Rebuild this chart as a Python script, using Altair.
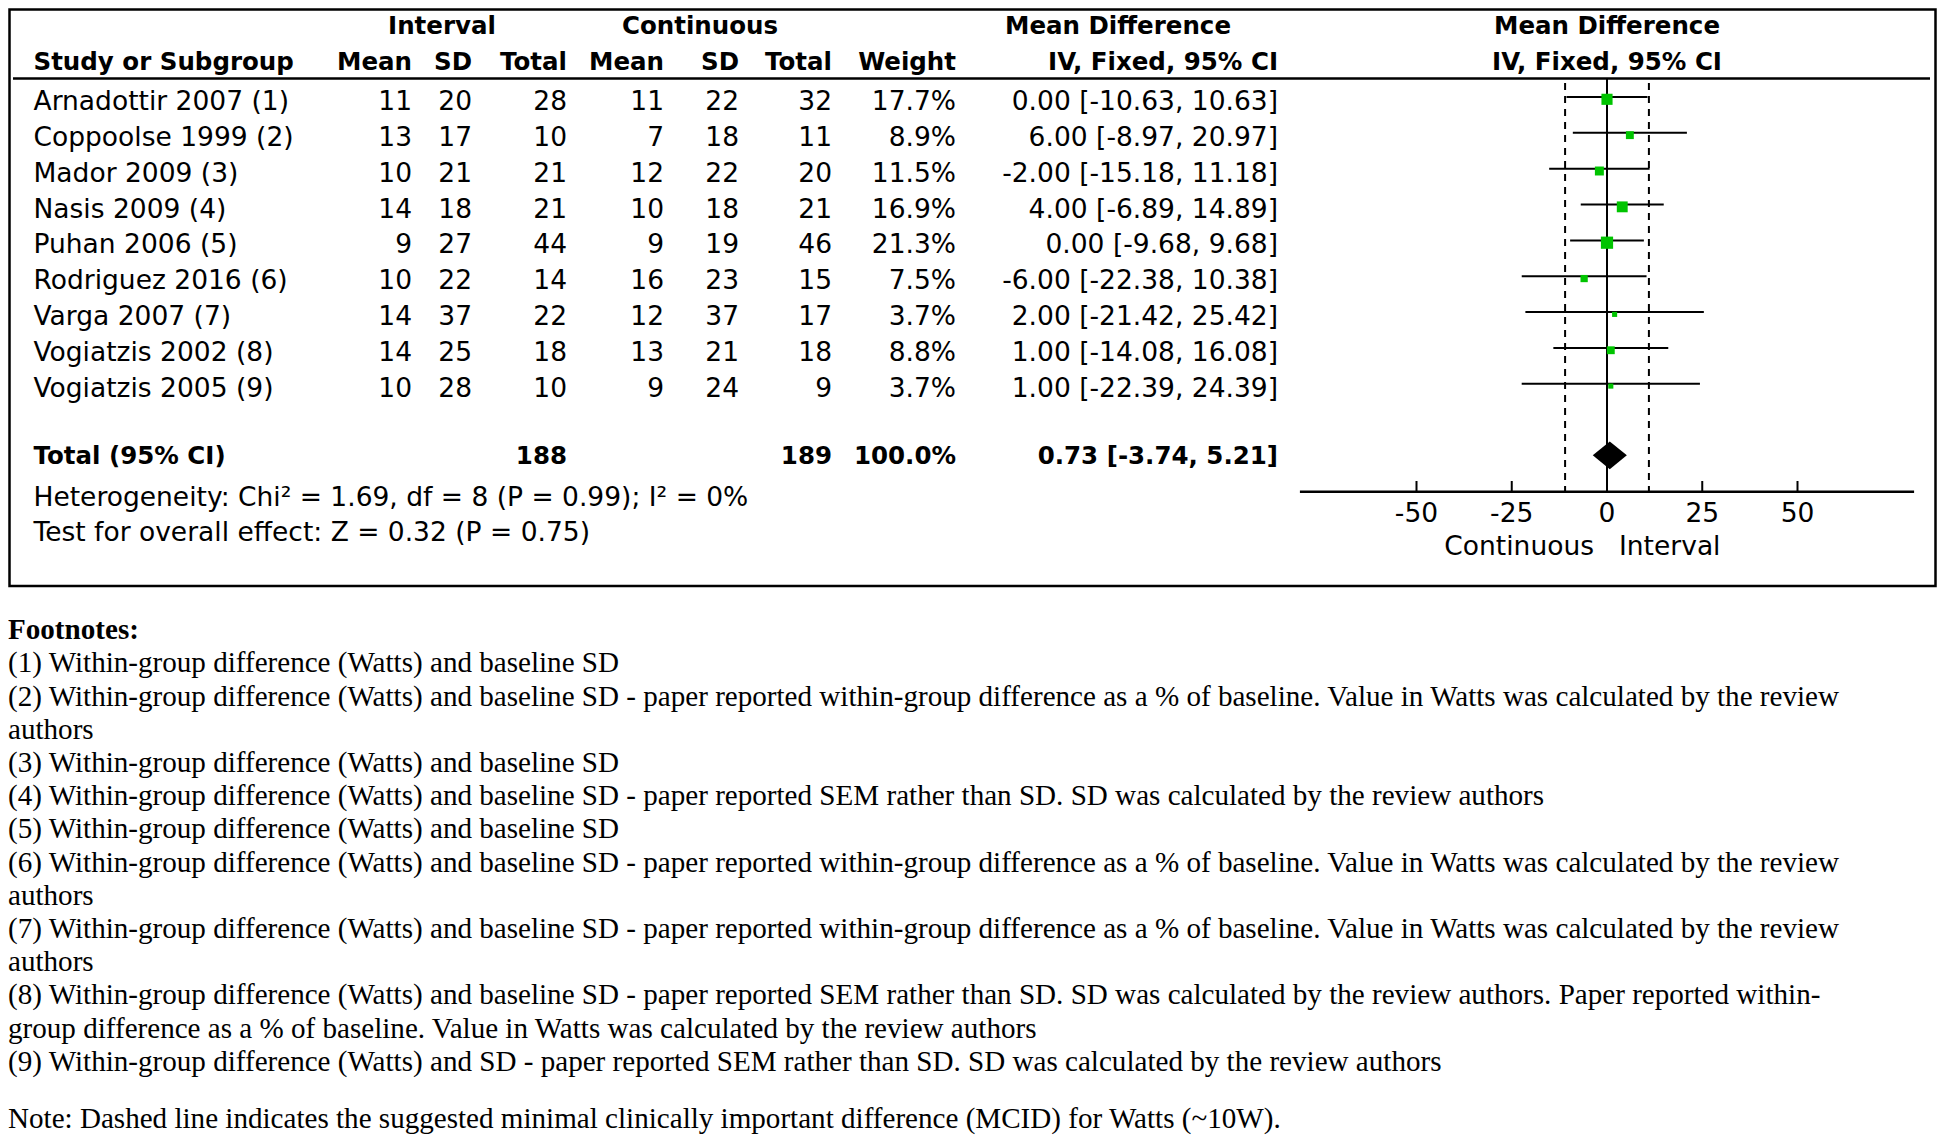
import altair as alt
import pandas as pd

# ---------------- data ----------------
studies = ["Arnadottir 2007 (1)", "Coppoolse 1999 (2)", "Mador 2009 (3)", "Nasis 2009 (4)",
           "Puhan 2006 (5)", "Rodriguez 2016 (6)", "Varga 2007 (7)", "Vogiatzis 2002 (8)",
           "Vogiatzis 2005 (9)"]
int_mean = [11, 13, 10, 14, 9, 10, 14, 14, 10]
int_sd = [20, 17, 21, 18, 27, 22, 37, 25, 28]
int_total = [28, 10, 21, 21, 44, 14, 22, 18, 10]
con_mean = [11, 7, 12, 10, 9, 16, 12, 13, 9]
con_sd = [22, 18, 22, 18, 19, 23, 37, 21, 24]
con_total = [32, 11, 20, 21, 46, 15, 17, 18, 9]
weight = [17.7, 8.9, 11.5, 16.9, 21.3, 7.5, 3.7, 8.8, 3.7]
md = [0.00, 6.00, -2.00, 4.00, 0.00, -6.00, 2.00, 1.00, 1.00]
ci_lo = [-10.63, -8.97, -15.18, -6.89, -9.68, -22.38, -21.42, -14.08, -22.39]
ci_hi = [10.63, 20.97, 11.18, 14.89, 9.68, 10.38, 25.42, 16.08, 24.39]

total_label = "Total (95% CI)"
total_int = 188
total_con = 189
total_weight = 100.0
total_md = 0.73
total_lo = -3.74
total_hi = 5.21
heterogeneity = "Heterogeneity: Chi\u00b2 = 1.69, df = 8 (P = 0.99); I\u00b2 = 0%"
overall_effect = "Test for overall effect: Z = 0.32 (P = 0.75)"

mcid_lines = [-11, 11]
axis_ticks = [-50, -25, 0, 25, 50]
axis_extent = [-80.6, 80.6]
favours_left = "Continuous"
favours_right = "Interval"

header_top = ["Interval", "Continuous", "Mean Difference", "Mean Difference"]
header_sub = ["Study or Subgroup", "Mean", "SD", "Total", "Mean", "SD", "Total", "Weight",
              "IV, Fixed, 95% CI", "IV, Fixed, 95% CI"]

footnote_title = "Footnotes:"
footnote_lines = [
    "(1) Within-group difference (Watts) and baseline SD",
    "(2) Within-group difference (Watts) and baseline SD - paper reported within-group difference as a % of baseline. Value in Watts was calculated by the review",
    "authors",
    "(3) Within-group difference (Watts) and baseline SD",
    "(4) Within-group difference (Watts) and baseline SD - paper reported SEM rather than SD. SD was calculated by the review authors",
    "(5) Within-group difference (Watts) and baseline SD",
    "(6) Within-group difference (Watts) and baseline SD - paper reported within-group difference as a % of baseline. Value in Watts was calculated by the review",
    "authors",
    "(7) Within-group difference (Watts) and baseline SD - paper reported within-group difference as a % of baseline. Value in Watts was calculated by the review",
    "authors",
    "(8) Within-group difference (Watts) and baseline SD - paper reported SEM rather than SD. SD was calculated by the review authors. Paper reported within-",
    "group difference as a % of baseline. Value in Watts was calculated by the review authors",
    "(9) Within-group difference (Watts) and SD - paper reported SEM rather than SD. SD was calculated by the review authors",
]
note_line = "Note: Dashed line indicates the suggested minimal clinically important difference (MCID) for Watts (~10W)."

# ---------------- layout ----------------
W, H = 1929, 1128
OFF = 8                      # page margin: reference pixel -> view pixel
SANS = "DejaVu Sans"
SERIF = "Liberation Serif"
FS = 26.5                    # table font size
FSB = 24.5                   # bold table font size
FS_NOTE = 29.1
GREEN = "#00c400"

ROW_Y1, ROW_H = 97.0, 35.85  # CI-line position of row 1 and row pitch


def row_of(y):
    return 1 + (y - ROW_Y1) / ROW_H


ROW_SCALE = alt.Scale(domain=[row_of(OFF), row_of(OFF + H)], reverse=True, nice=False, zero=False)

X0, XU = 1607.0, 3.81        # pixel of zero and pixels per unit


def xval(x):
    return (x - X0) / XU


XS = alt.Scale(domain=[xval(OFF), xval(OFF + W)], nice=False, zero=False)

FN_Y1, FN_H = 663.3, 33.2


def fn_of(y):
    return 1 + (y - FN_Y1) / FN_H


FN_SCALE = alt.Scale(domain=[fn_of(OFF), fn_of(OFF + H)], reverse=True, nice=False, zero=False)

TEXT_DY = 5.0
SQ_OFF = 2.3
R_TOTAL = row_of(455.3)
DIA_H = 13.9 / ROW_H
NOTE_L = 14.72


def vx(xref):
    return xref - OFF


def yr(field="r"):
    return alt.Y(f"{field}:Q", scale=ROW_SCALE, axis=None)


def xs(field="x"):
    return alt.X(f"{field}:Q", scale=XS, axis=None)


def fmt(v):
    return f"{v:.2f}"


layers = []
one = pd.DataFrame({"k": [0]})

# frame
layers.append(alt.Chart(one).mark_rect(filled=False, stroke="black", strokeWidth=2.5).encode(
    x=alt.value(1.5), x2=alt.value(W - 1.5), y=alt.value(1.5), y2=alt.value(586 - OFF)))

# header rule
layers.append(alt.Chart(pd.DataFrame({"r": [row_of(78.5)]})).mark_rule(
    color="black", strokeWidth=2.5).encode(x=alt.value(5), x2=alt.value(W - 7), y=yr()))

# headers
top_pos = [(442, "center"), (700, "center"), (1118, "center"), (X0, "center")]
for lab, (xp, al) in zip(header_top, top_pos):
    layers.append(alt.Chart(pd.DataFrame({"t": [lab], "r": [row_of(26.6)]})).mark_text(
        font=SANS, fontSize=FSB, fontWeight="bold", align=al, baseline="middle", color="black").encode(
        x=alt.value(vx(xp)), y=yr(), text="t:N"))
sub_pos = [(33.5, "left"), (412, "right"), (472, "right"), (567, "right"), (664, "right"),
           (739, "right"), (832, "right"), (956, "right"), (1278, "right"), (X0, "center")]
for lab, (xp, al) in zip(header_sub, sub_pos):
    layers.append(alt.Chart(pd.DataFrame({"t": [lab], "r": [row_of(62.8)]})).mark_text(
        font=SANS, fontSize=FSB, fontWeight="bold", align=al, baseline="middle", color="black").encode(
        x=alt.value(vx(xp)), y=yr(), text="t:N"))

# study table
table = pd.DataFrame({
    "r": list(range(1, len(studies) + 1)),
    "study": studies,
    "im": [str(v) for v in int_mean], "isd": [str(v) for v in int_sd], "it": [str(v) for v in int_total],
    "cm": [str(v) for v in con_mean], "csd": [str(v) for v in con_sd], "ct": [str(v) for v in con_total],
    "w": [f"{v:.1f}%" for v in weight],
    "ci": [f"{fmt(m)} [{fmt(l)}, {fmt(h)}]" for m, l, h in zip(md, ci_lo, ci_hi)],
    "md": md, "lo": ci_lo, "hi": ci_hi, "weight": weight,
})
cols = [("study", 33.5, "left"), ("im", 412, "right"), ("isd", 472, "right"), ("it", 567, "right"),
        ("cm", 664, "right"), ("csd", 739, "right"), ("ct", 832, "right"), ("w", 956, "right"),
        ("ci", 1278, "right")]
for f, xp, al in cols:
    layers.append(alt.Chart(table).mark_text(
        font=SANS, fontSize=FS, align=al, baseline="middle", dy=TEXT_DY, color="black").encode(
        x=alt.value(vx(xp)), y=yr(), text=f"{f}:N"))

# total row
tot = pd.DataFrame({"r": [row_of(456.8)]})
tot_items = [(total_label, 33.5, "left"), (str(total_int), 567, "right"), (str(total_con), 832, "right"),
             (f"{total_weight:.1f}%", 956, "right"),
             (f"{fmt(total_md)} [{fmt(total_lo)}, {fmt(total_hi)}]", 1278, "right")]
for lab, xp, al in tot_items:
    layers.append(alt.Chart(tot.assign(t=lab)).mark_text(
        font=SANS, fontSize=FSB, fontWeight="bold", align=al, baseline="middle", color="black").encode(
        x=alt.value(vx(xp)), y=yr(), text="t:N"))

# heterogeneity / overall effect
stats = pd.DataFrame({"t": [heterogeneity, overall_effect], "r": [row_of(498.4), row_of(533.4)]})
layers.append(alt.Chart(stats).mark_text(
    font=SANS, fontSize=FS, align="left", baseline="middle", color="black").encode(
    x=alt.value(vx(33.5)), y=yr(), text="t:N"))

# zero line and MCID dashed lines
layers.append(alt.Chart(pd.DataFrame({"x": [0], "r": [row_of(78.5)], "r2": [row_of(491.7)]})).mark_rule(
    color="black", strokeWidth=2).encode(x=xs(), y=yr(), y2="r2:Q"))
layers.append(alt.Chart(pd.DataFrame({"x": mcid_lines, "r": [row_of(83)] * 2, "r2": [row_of(491.7)] * 2})).mark_rule(
    color="black", strokeWidth=2, strokeDash=[7, 6]).encode(x=xs(), y=yr(), y2="r2:Q"))

# confidence intervals
layers.append(alt.Chart(table).mark_rule(color="black", strokeWidth=2).encode(
    x=xs("lo"), x2="hi:Q", y=yr()))

# diamond
dia = pd.DataFrame({"x": [total_lo, total_md, total_hi], "k": [0, 1, 0]})
layers.append(alt.Chart(dia).transform_calculate(
    ya=f"{R_TOTAL} - {DIA_H} * datum.k", yb=f"{R_TOTAL} + {DIA_H} * datum.k").mark_area(
    color="black", orient="vertical", interpolate="linear").encode(
    x=xs(), y=yr("ya"), y2="yb:Q"))

# axis
layers.append(alt.Chart(pd.DataFrame({"a": [axis_extent[0]], "b": [axis_extent[1]], "r": [row_of(491.7)]})).mark_rule(
    color="black", strokeWidth=2.5).encode(x=xs("a"), x2="b:Q", y=yr()))
ticks = pd.DataFrame({"x": axis_ticks, "r": [row_of(481.0)] * len(axis_ticks),
                      "r2": [row_of(491.7)] * len(axis_ticks), "t": [str(t) for t in axis_ticks],
                      "rl": [row_of(514.0)] * len(axis_ticks)})
layers.append(alt.Chart(ticks).mark_rule(color="black", strokeWidth=2).encode(x=xs(), y=yr(), y2="r2:Q"))
layers.append(alt.Chart(ticks).mark_text(
    font=SANS, fontSize=FS, align="center", baseline="middle", color="black").encode(
    x=xs(), y=yr("rl"), text="t:N"))
fav = pd.DataFrame({"x": [0], "r": [row_of(547.4)]})
layers.append(alt.Chart(fav.assign(t=favours_left)).mark_text(
    font=SANS, fontSize=FS, align="right", baseline="middle", dx=-13, color="black").encode(
    x=xs(), y=yr(), text="t:N"))
layers.append(alt.Chart(fav.assign(t=favours_right)).mark_text(
    font=SANS, fontSize=FS, align="left", baseline="middle", dx=12, color="black").encode(
    x=xs(), y=yr(), text="t:N"))

# squares (weights)
layers.append(alt.Chart(table).mark_square(color=GREEN, opacity=1, yOffset=SQ_OFF).encode(
    x=xs("md"), y=yr(),
    size=alt.Size("weight:Q", scale=alt.Scale(domain=[0, 100], range=[0, 700]), legend=None)))

# footnotes
fn = pd.DataFrame({"L": list(range(1, len(footnote_lines) + 1)), "t": footnote_lines})
layers.append(alt.Chart(pd.DataFrame({"L": [0], "t": [footnote_title]})).mark_text(
    font=SERIF, fontSize=FS_NOTE, fontWeight="bold", align="left", baseline="middle", color="black").encode(
    x=alt.value(0), y=alt.Y("L:Q", scale=FN_SCALE, axis=None), text="t:N"))
layers.append(alt.Chart(fn).mark_text(
    font=SERIF, fontSize=FS_NOTE, align="left", baseline="middle", color="black").encode(
    x=alt.value(0), y=alt.Y("L:Q", scale=FN_SCALE, axis=None), text="t:N"))
layers.append(alt.Chart(pd.DataFrame({"L": [NOTE_L], "t": [note_line]})).mark_text(
    font=SERIF, fontSize=FS_NOTE, align="left", baseline="middle", color="black").encode(
    x=alt.value(0), y=alt.Y("L:Q", scale=FN_SCALE, axis=None), text="t:N"))

chart = alt.layer(*layers).resolve_scale(x="independent", y="independent", size="independent").properties(
    width=W, height=H, autosize=alt.AutoSizeParams(type="none"), padding=0, background="white"
).configure_view(strokeWidth=0)

chart.save("out.html", embed_options={"renderer": "svg", "actions": False})
